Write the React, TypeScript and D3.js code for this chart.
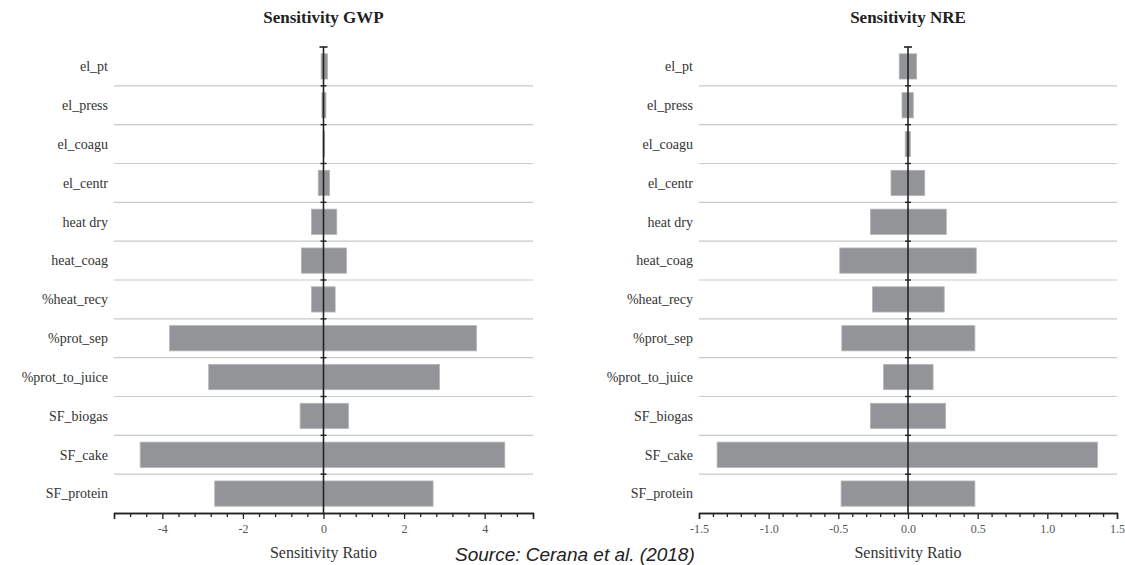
import React, { useEffect, useRef } from 'react';
import * as d3 from 'd3';

const categories = [
  'el_pt', 'el_press', 'el_coagu', 'el_centr', 'heat dry', 'heat_coag',
  '%heat_recy', '%prot_sep', '%prot_to_juice', 'SF_biogas', 'SF_cake', 'SF_protein',
];

// GWP sensitivity ratios (low / high)
const gwpLow = [-0.06, -0.04, -0.01, -0.13, -0.3, -0.55, -0.3, -3.82, -2.85, -0.58, -4.55, -2.7];
const gwpHigh = [0.1, 0.06, 0.03, 0.15, 0.33, 0.57, 0.29, 3.8, 2.88, 0.62, 4.5, 2.72];

// NRE sensitivity ratios (low / high)
const nreLow = [-0.063, -0.043, -0.02, -0.122, -0.27, -0.49, -0.255, -0.475, -0.175, -0.27, -1.37, -0.48];
const nreHigh = [0.062, 0.038, 0.017, 0.12, 0.275, 0.49, 0.26, 0.48, 0.18, 0.27, 1.36, 0.48];

const gwpDomain = [-5.2, 5.2];
const gwpMajor = [-4, -2, 0, 2, 4];
const gwpMinorStep = 0.4;

const nreDomain = [-1.5, 1.5];
const nreMajor = [-1.5, -1.0, -0.5, 0, 0.5, 1.0, 1.5];
const nreMinorStep = 0.1;

const WIDTH = 1125;
const HEIGHT = 565;
const TOP = 47;
const BOTTOM = 513;
const SERIF = "'Liberation Serif', 'Times New Roman', serif";

interface PanelOpts {
  title: string;
  low: number[];
  high: number[];
  domain: number[];
  major: number[];
  minorStep: number;
  x0: number;
  x1: number;
  fmt: (v: number) => string;
}

const App: React.FC = () => {
  const svgRef = useRef<SVGSVGElement>(null);

  useEffect(() => {
    if (!svgRef.current) return;
    const svg = d3.select(svgRef.current);
    svg.selectAll('*').remove();

    const y = d3.scaleBand<string>()
      .domain(categories)
      .range([TOP, BOTTOM])
      .paddingInner(0.35)
      .paddingOuter(0.175);
    const step = y.step();

    const drawPanel = (o: PanelOpts) => {
      const g = svg.append('g');
      const x = d3.scaleLinear().domain(o.domain).range([o.x0, o.x1]);
      const cx = x(0);

      // title
      g.append('text')
        .attr('x', (o.x0 + o.x1) / 2)
        .attr('y', 23)
        .attr('text-anchor', 'middle')
        .attr('font-family', SERIF)
        .attr('font-weight', 'bold')
        .attr('font-size', 17)
        .attr('fill', '#222')
        .text(o.title);

      // row separators
      categories.slice(1).forEach((c) => {
        const yy = (y(c) as number) - (step - y.bandwidth()) / 2;
        g.append('line')
          .attr('x1', o.x0).attr('x2', o.x1)
          .attr('y1', yy).attr('y2', yy)
          .attr('stroke', '#c9c9c9')
          .attr('stroke-width', 1.2);
      });

      // bars
      g.selectAll('rect.bar')
        .data(categories)
        .enter()
        .append('rect')
        .attr('class', 'bar')
        .attr('x', (d, i) => x(o.low[i]))
        .attr('y', d => y(d) as number)
        .attr('width', (d, i) => x(o.high[i]) - x(o.low[i]))
        .attr('height', y.bandwidth())
        .attr('fill', '#939497')
        .attr('stroke', '#b4b5b7')
        .attr('stroke-width', 0.8);

      // category labels
      g.selectAll('text.cat')
        .data(categories)
        .enter()
        .append('text')
        .attr('class', 'cat')
        .attr('x', o.x0 - 6)
        .attr('y', d => (y(d) as number) + y.bandwidth() / 2)
        .attr('dy', '0.35em')
        .attr('text-anchor', 'end')
        .attr('font-family', SERIF)
        .attr('font-size', 14)
        .attr('fill', '#333')
        .text(d => d);

      // zero line with ticks at band boundaries
      g.append('line')
        .attr('x1', cx).attr('x2', cx)
        .attr('y1', TOP).attr('y2', BOTTOM)
        .attr('stroke', '#222')
        .attr('stroke-width', 1.6);
      g.append('line')
        .attr('x1', cx - 4).attr('x2', cx + 4)
        .attr('y1', TOP).attr('y2', TOP)
        .attr('stroke', '#222')
        .attr('stroke-width', 1.6);
      categories.slice(1).forEach((c) => {
        const yy = (y(c) as number) - (step - y.bandwidth()) / 2;
        g.append('line')
          .attr('x1', cx - 3).attr('x2', cx + 3)
          .attr('y1', yy).attr('y2', yy)
          .attr('stroke', '#222')
          .attr('stroke-width', 1.4);
      });

      // x axis
      const minor = d3.range(o.domain[0], o.domain[1] + o.minorStep / 2, o.minorStep)
        .filter(v => !o.major.some(m => Math.abs(m - v) < 1e-6));
      const axisG = g.append('g').attr('transform', `translate(0,${BOTTOM})`);
      axisG.call(
        d3.axisBottom(x).tickValues(minor).tickSize(4).tickSizeOuter(6).tickFormat(() => '')
      );
      const majorG = g.append('g').attr('transform', `translate(0,${BOTTOM})`);
      majorG.call(
        d3.axisBottom(x).tickValues(o.major).tickSize(6).tickSizeOuter(6).tickPadding(5)
          .tickFormat(d => o.fmt(d as number))
      );
      [axisG, majorG].forEach(a => {
        a.selectAll('path, line').attr('stroke', '#222').attr('stroke-width', 1.3);
        a.selectAll('text')
          .attr('font-family', SERIF)
          .attr('font-size', 12)
          .attr('fill', '#555');
      });

      g.append('text')
        .attr('x', cx)
        .attr('y', 558)
        .attr('text-anchor', 'middle')
        .attr('font-family', SERIF)
        .attr('font-size', 16)
        .attr('fill', '#333')
        .text('Sensitivity Ratio');
    };

    drawPanel({
      title: 'Sensitivity GWP',
      low: gwpLow,
      high: gwpHigh,
      domain: gwpDomain,
      major: gwpMajor,
      minorStep: gwpMinorStep,
      x0: 114,
      x1: 533,
      fmt: v => String(v).replace('\u2212', '-'),
    });

    drawPanel({
      title: 'Sensitivity NRE',
      low: nreLow,
      high: nreHigh,
      domain: nreDomain,
      major: nreMajor,
      minorStep: nreMinorStep,
      x0: 699,
      x1: 1117,
      fmt: v => v.toFixed(1),
    });

    // source note at the bottom edge
    svg.append('text')
      .attr('x', 455)
      .attr('y', 561)
      .attr('font-family', "'Liberation Sans', Arial, sans-serif")
      .attr('font-style', 'italic')
      .attr('font-size', 19)
      .attr('fill', '#222')
      .text('Source: Cerana et al. (2018)');
  }, []);

  return (
    <div style={{ position: 'fixed', left: 0, top: 0, width: WIDTH, height: HEIGHT, background: '#fff' }}>
      <svg ref={svgRef} width={WIDTH} height={HEIGHT} />
    </div>
  );
};

export default App;
